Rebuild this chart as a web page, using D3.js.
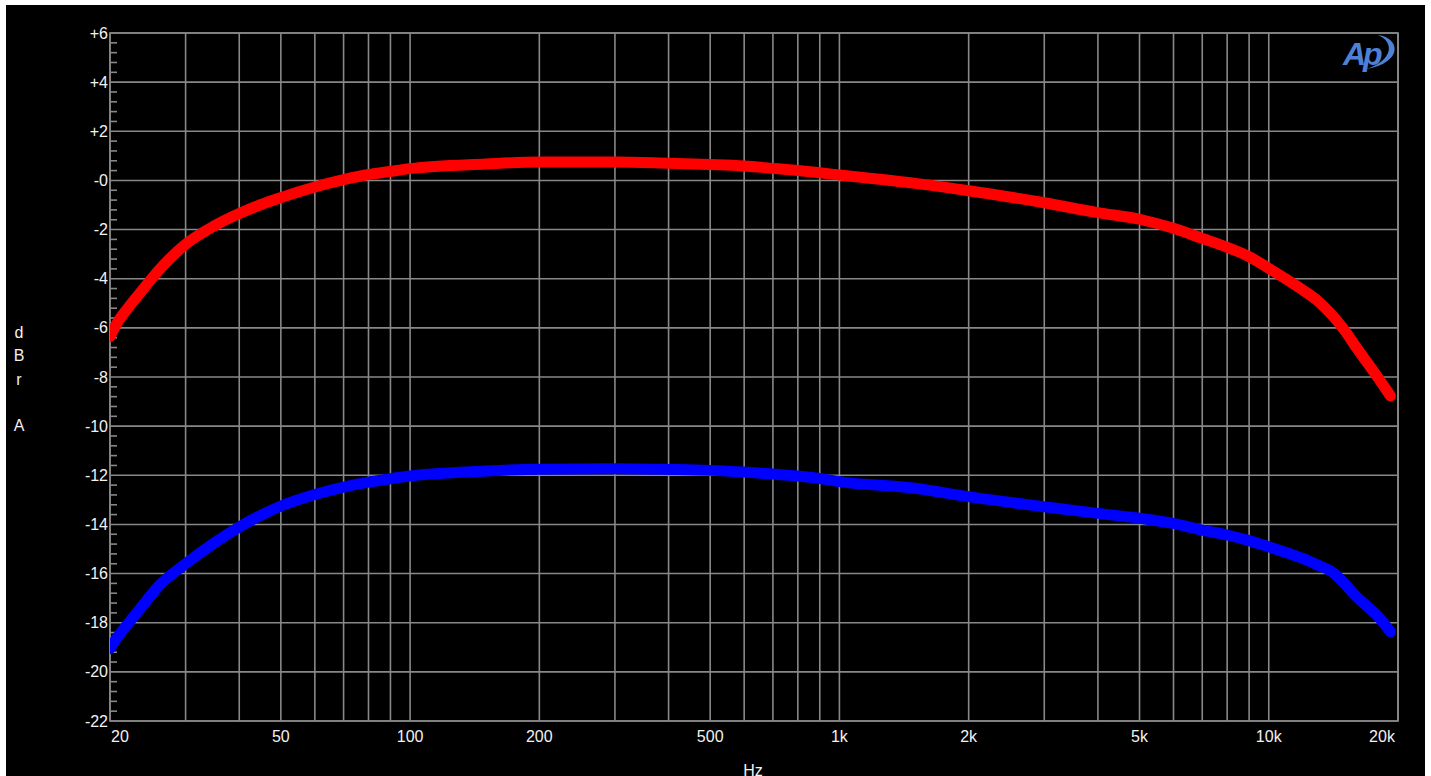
<!DOCTYPE html>
<html>
<head>
<meta charset="utf-8">
<script src="https://cdn.jsdelivr.net/npm/d3@7"></script>
<style>
  body { margin: 0; background: #ffffff; }
  svg { display: block; }
</style>
</head>
<body>
<svg id="vis" width="1431" height="776"></svg>
<script>
// frequency points (Hz)
var freqs = [20, 20.7, 22, 23.7, 26, 30, 35, 40, 45, 50, 60, 70, 80, 90, 100, 150, 200, 300, 400, 500,
             600, 700, 800, 900, 1000, 1500, 2000, 3000, 4000, 5000, 6000, 7000, 8000, 9000,
             10000, 11000, 12000, 13000, 14000, 15000, 16000, 17000, 18000, 19200];

// level in dBrA, red trace
var redLevels = [-6.35, -5.85, -5.2, -4.5, -3.65, -2.6, -1.85, -1.35, -0.98, -0.7, -0.27, 0.03, 0.24, 0.37, 0.48, 0.67, 0.75, 0.75, 0.7, 0.65,
                 0.59, 0.49, 0.4, 0.31, 0.22, -0.12, -0.42, -0.91, -1.31, -1.58, -1.95, -2.36, -2.72, -3.1,
                 -3.58, -4.03, -4.46, -4.9, -5.45, -6.09, -6.8, -7.44, -8.05, -8.77];

// level in dBrA, blue trace
var blueLevels = [-19.05, -18.65, -18.05, -17.35, -16.5, -15.6, -14.75, -14.1, -13.62, -13.25, -12.78, -12.48, -12.28, -12.14, -12.03, -11.83, -11.75, -11.73, -11.76, -11.8,
                  -11.87, -11.95, -12.03, -12.13, -12.26, -12.53, -12.87, -13.28, -13.55, -13.75, -13.96, -14.23, -14.43, -14.66,
                  -14.91, -15.15, -15.38, -15.65, -15.92, -16.4, -16.94, -17.35, -17.76, -18.37];

var yTicks = [6, 4, 2, 0, -2, -4, -6, -8, -10, -12, -14, -16, -18, -20, -22];
var yTickLabels = ["+6", "+4", "+2", "-0", "-2", "-4", "-6", "-8", "-10", "-12", "-14", "-16", "-18", "-20", "-22"];
var xLabelTicks = [20, 50, 100, 200, 500, 1000, 2000, 5000, 10000, 20000];
var xTickLabels = ["20", "50", "100", "200", "500", "1k", "2k", "5k", "10k", "20k"];
var yAxisLetters = ["d", "B", "r", "", "A"];

var plotLeft = 110, plotTop = 33, plotRight = 1398, plotBottom = 721;
var gridColor = "#888888";
var textColor = "#f2f2f2";
var fontFamily = "'Liberation Sans', Arial, sans-serif";

var xScale = d3.scaleLog().domain([20, 20000]).range([plotLeft, plotRight]);
var yScale = d3.scaleLinear().domain([-22, 6]).range([plotBottom, plotTop]);

var canvas = d3.select("#vis");

// black panel inside the white frame
canvas.append("rect")
    .attr("x", 6).attr("y", 5)
    .attr("width", 1419).attr("height", 771)
    .style("fill", "#000000");

// vertical grid: every 1..9 step of each decade
var gridFreqs = [];
[10, 100, 1000, 10000].forEach(function(dec) {
    for (var k = 1; k <= 9; k++) {
        var f = dec * k;
        if (f >= 20 && f <= 20000) gridFreqs.push(f);
    }
});
gridFreqs.push(20000);

canvas.append("g").selectAll("line")
    .data(gridFreqs)
    .enter().append("line")
    .attr("x1", function(d) { return xScale(d) })
    .attr("x2", function(d) { return xScale(d) })
    .attr("y1", plotTop).attr("y2", plotBottom)
    .attr("stroke", gridColor)
    .attr("stroke-width", 1.6);

canvas.append("g").selectAll("line")
    .data(yTicks)
    .enter().append("line")
    .attr("x1", plotLeft).attr("x2", plotRight)
    .attr("y1", function(d) { return yScale(d) })
    .attr("y2", function(d) { return yScale(d) })
    .attr("stroke", gridColor)
    .attr("stroke-width", 1.6);

// minor ticks on the left edge, 0.4 dB apart
var minor = d3.range(-22, 6.001, 0.4).filter(function(v) {
    return Math.abs(v / 2 - Math.round(v / 2)) > 0.01;
});
canvas.append("g").selectAll("line")
    .data(minor)
    .enter().append("line")
    .attr("x1", plotLeft).attr("x2", plotLeft + 7)
    .attr("y1", function(d) { return yScale(d) })
    .attr("y2", function(d) { return yScale(d) })
    .attr("stroke", gridColor)
    .attr("stroke-width", 1.6);

canvas.append("rect")
    .attr("x", plotLeft).attr("y", plotTop)
    .attr("width", plotRight - plotLeft).attr("height", plotBottom - plotTop)
    .attr("fill", "none")
    .attr("stroke", gridColor)
    .attr("stroke-width", 1.6);

// y labels
canvas.append("g").selectAll("text")
    .data(yTicks)
    .enter().append("text")
    .attr("x", plotLeft - 2)
    .attr("y", function(d) { return yScale(d) })
    .attr("dy", "0.35em")
    .attr("text-anchor", "end")
    .style("font-family", fontFamily)
    .style("font-size", "16px")
    .style("fill", textColor)
    .text(function(d, i) { return yTickLabels[i] });

// x labels, edge labels pushed inward
canvas.append("g").selectAll("text")
    .data(xLabelTicks)
    .enter().append("text")
    .attr("x", function(d, i) {
        if (i === 0) return xScale(d) + 10;
        if (i === xLabelTicks.length - 1) return xScale(d) - 16;
        return xScale(d);
    })
    .attr("y", 742)
    .attr("text-anchor", "middle")
    .style("font-family", fontFamily)
    .style("font-size", "16px")
    .style("fill", textColor)
    .text(function(d, i) { return xTickLabels[i] });

canvas.append("text")
    .attr("x", 753).attr("y", 776)
    .attr("text-anchor", "middle")
    .style("font-family", fontFamily)
    .style("font-size", "16px")
    .style("fill", textColor)
    .text("Hz");

canvas.append("g").selectAll("text")
    .data(yAxisLetters)
    .enter().append("text")
    .attr("x", 19)
    .attr("y", function(d, i) { return 338 + i * 23.3 })
    .attr("text-anchor", "middle")
    .style("font-family", fontFamily)
    .style("font-size", "16px")
    .style("fill", textColor)
    .text(function(d) { return d });

// traces
canvas.append("clipPath").attr("id", "plotClip")
    .append("rect")
    .attr("x", plotLeft).attr("y", plotTop)
    .attr("width", plotRight - plotLeft).attr("height", plotBottom - plotTop);

function plotTrace(levels, color) {
    return canvas.append("path")
        .datum(freqs.map(function(f, i) { return {f: f, v: levels[i]} }))
        .attr("clip-path", "url(#plotClip)")
        .attr("fill", "none")
        .attr("stroke", color)
        .attr("stroke-width", 11)
        .attr("stroke-linecap", "round")
        .attr("stroke-linejoin", "round")
        .attr("d", d3.line()
            .curve(d3.curveMonotoneX)
            .x(function(d) { return xScale(d.f) })
            .y(function(d) { return yScale(d.v) })
        );
}

plotTrace(redLevels, "#ff0000");
plotTrace(blueLevels, "#0000ff");

// AP logo
var logo = canvas.append("g").attr("fill", "#4f80d6");
logo.append("text")
    .attr("x", 1343).attr("y", 65)
    .style("font-family", fontFamily)
    .style("font-size", "32px")
    .style("font-style", "italic")
    .style("font-weight", "bold")
    .style("letter-spacing", "-3px")
    .text("Ap");
logo.append("path")
    .attr("d", "M1378,35 C1401,38 1403,63 1366,69 C1393,61 1395,42 1378,35 Z");
</script>
</body>
</html>
